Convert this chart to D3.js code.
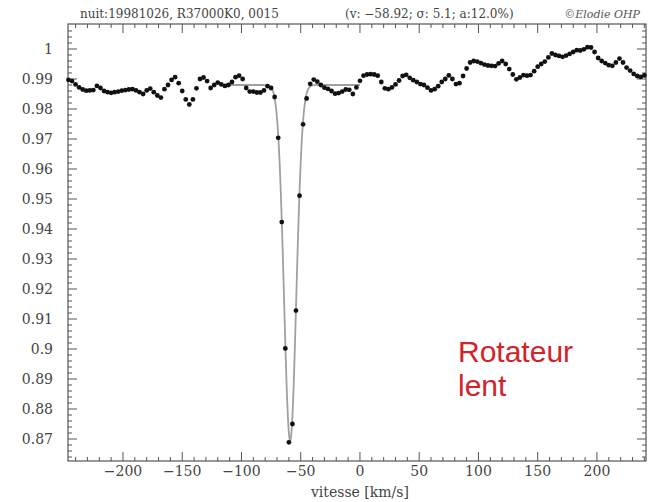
<!DOCTYPE html>
<html>
<head>
<meta charset="utf-8">
<script src="https://cdn.jsdelivr.net/npm/d3@7"></script>
<style>
  html, body { margin: 0; padding: 0; background: #fff; }
  svg { display: block; }
</style>
</head>
<body>
<svg id="chart" width="652" height="502"></svg>
<script>
// Cross-correlation profile, velocity grid step of 3 km/s
const velocityStart = -246, velocityStep = 3;
const correlation = [
  0.9897, 0.9893, 0.9882, 0.9872, 0.9865, 0.9861, 0.9862, 0.9863, 0.9877, 0.9870,
  0.9860, 0.9856, 0.9854, 0.9856, 0.9858, 0.9861, 0.9863, 0.9865, 0.9866, 0.9862,
  0.9856, 0.9850, 0.9862, 0.9868, 0.9856, 0.9845, 0.9838, 0.9866, 0.9880, 0.9897,
  0.9906, 0.9886, 0.9860, 0.9832, 0.9815, 0.9832, 0.9869, 0.9900, 0.9905, 0.9893,
  0.9870, 0.9880, 0.9888, 0.9882, 0.9877, 0.9880, 0.9890, 0.9906, 0.9911, 0.9900,
  0.9870, 0.9858, 0.9858, 0.9855, 0.9855, 0.9862, 0.9876, 0.9870, 0.9840, 0.9704,
  0.9423, 0.9002, 0.8689, 0.8750, 0.9128, 0.9511, 0.9749, 0.9835, 0.9884, 0.9898,
  0.9891, 0.9880, 0.9871, 0.9867, 0.9860, 0.9851, 0.9853, 0.9858, 0.9865, 0.9864,
  0.9850, 0.9872, 0.9894, 0.9911, 0.9915, 0.9916, 0.9915, 0.9911, 0.9890, 0.9869,
  0.9866, 0.9872, 0.9882, 0.9895, 0.9910, 0.9914, 0.9904, 0.9896, 0.9890, 0.9883,
  0.9880, 0.9871, 0.9862, 0.9866, 0.9876, 0.9890, 0.9900, 0.9912, 0.9900, 0.9883,
  0.9886, 0.9910, 0.9935, 0.9955, 0.9960, 0.9958, 0.9953, 0.9948, 0.9945, 0.9944,
  0.9943, 0.9952, 0.9960, 0.9950, 0.9933, 0.9915, 0.9899, 0.9905, 0.9913, 0.9911,
  0.9913, 0.9926, 0.9941, 0.9950, 0.9958, 0.9972, 0.9985, 0.9980, 0.9977, 0.9974,
  0.9978, 0.9984, 0.9990, 0.9996, 0.9995, 0.9999, 1.0006, 1.0005, 0.9990, 0.9970,
  0.9960, 0.9953, 0.9946, 0.9944, 0.9955, 0.9968, 0.9955, 0.9938, 0.9928, 0.9917,
  0.9910, 0.9907, 0.9912
];
const velocity = correlation.map((_, i) => velocityStart + i * velocityStep);

// Gaussian fit parameters (shown in the header)
const fitCentre = -58.92, fitSigma = 5.1, fitDepth = 0.120, fitContinuum = 0.988;
const fitRange = [-110, 0];

const xTickValues = [-200, -150, -100, -50, 0, 50, 100, 150, 200];
const yTickValues = [0.87, 0.88, 0.89, 0.9, 0.91, 0.92, 0.93, 0.94, 0.95, 0.96, 0.97, 0.98, 0.99, 1];
const yTickLabels = ["0.87", "0.88", "0.89", "0.9", "0.91", "0.92", "0.93", "0.94", "0.95", "0.96", "0.97", "0.98", "0.99", "1"];

const headerText = "nuit:19981026, R37000K0, 0015";
const fitText = "(v: \u221258.92; \u03c3: 5.1; a:12.0%)";
const creditText = "\u00a9Elodie OHP";
const xTitle = "vitesse [km/s]";
const noteLines = ["Rotateur", "lent"];

const svg = d3.select("#chart");
const plotLeft = 68, plotRight = 646, plotTop = 24, plotBottom = 461;
const W = plotRight - plotLeft, H = plotBottom - plotTop;

const x = d3.scaleLinear().domain([-246.4, 241.4]).range([plotLeft, plotRight]);
const y = d3.scaleLinear().domain([0.86267, 1.00833]).range([plotBottom, plotTop]);

const axisColor = "#555";
const serif = "'DejaVu Serif', serif";

// Frame
svg.append("rect")
  .attr("x", plotLeft).attr("y", plotTop).attr("width", W).attr("height", H)
  .attr("fill", "none").attr("stroke", axisColor).attr("stroke-width", 1.2);

// Ticks pointing inward on every side
const xMinor = d3.range(-240, 241, 10).filter(v => v % 50 !== 0);
const yMinor = d3.range(864, 1008, 2).map(v => v / 1000).filter(v => Math.round(v * 1000) % 10 !== 0);

const tickG = svg.append("g").attr("stroke", axisColor).attr("stroke-width", 1);
function xTicks(vals, len) {
  vals.forEach(v => {
    tickG.append("line").attr("x1", x(v)).attr("x2", x(v)).attr("y1", plotBottom).attr("y2", plotBottom - len);
    tickG.append("line").attr("x1", x(v)).attr("x2", x(v)).attr("y1", plotTop).attr("y2", plotTop + len);
  });
}
function yTicks(vals, len) {
  vals.forEach(v => {
    tickG.append("line").attr("x1", plotLeft).attr("x2", plotLeft + len).attr("y1", y(v)).attr("y2", y(v));
    tickG.append("line").attr("x1", plotRight).attr("x2", plotRight - len).attr("y1", y(v)).attr("y2", y(v));
  });
}
xTicks(xTickValues, 9);
xTicks(xMinor, 4);
yTicks(yTickValues, 9);
yTicks(yMinor, 4);

// Tick labels
svg.append("g").selectAll("text").data(xTickValues).join("text")
  .attr("x", d => x(d)).attr("y", 476)
  .attr("text-anchor", "middle")
  .attr("font-family", serif).attr("font-size", 14).attr("fill", "#444")
  .text(d => d < 0 ? "\u2212" + Math.abs(d) : String(d));

svg.append("g").selectAll("text").data(yTickValues).join("text")
  .attr("x", 53).attr("y", d => y(d) + 5)
  .attr("text-anchor", "end")
  .attr("font-family", serif).attr("font-size", 14).attr("fill", "#444")
  .text((d, i) => yTickLabels[i]);

// Axis title
svg.append("text")
  .attr("x", x(0)).attr("y", 497)
  .attr("text-anchor", "middle")
  .attr("font-family", serif).attr("font-size", 14).attr("fill", "#444")
  .text(xTitle);

// Header
svg.append("text").attr("x", 80).attr("y", 18)
  .attr("font-family", serif).attr("font-size", 12).attr("fill", "#444")
  .text(headerText);
svg.append("text").attr("x", 345).attr("y", 18)
  .attr("font-family", serif).attr("font-size", 12).attr("fill", "#444")
  .text(fitText);
svg.append("text").attr("x", 640).attr("y", 18)
  .attr("text-anchor", "end")
  .attr("font-family", serif).attr("font-style", "italic").attr("font-size", 11).attr("fill", "#555")
  .text(creditText);

// Gaussian fit curve
const fitV = d3.range(fitRange[0], fitRange[1] + 0.001, 0.25);
const fitLine = d3.line()
  .x(v => x(v))
  .y(v => y(fitContinuum * (1 - fitDepth * Math.exp(-((v - fitCentre) ** 2) / (2 * fitSigma * fitSigma)))));
svg.append("path")
  .attr("d", fitLine(fitV))
  .attr("fill", "none").attr("stroke", "#a0a0a0").attr("stroke-width", 1.8);

// Data points
svg.append("g").selectAll("circle").data(correlation).join("circle")
  .attr("cx", (d, i) => x(velocity[i]))
  .attr("cy", d => y(d))
  .attr("r", 2.4)
  .attr("fill", "#111");

// Annotation
svg.append("g").selectAll("text").data(noteLines).join("text")
  .attr("x", 458).attr("y", (d, i) => 362 + i * 34)
  .attr("font-family", "'Liberation Sans', Arial, sans-serif")
  .attr("font-size", 30).attr("fill", "#d2232a")
  .text(d => d);
</script>
</body>
</html>
